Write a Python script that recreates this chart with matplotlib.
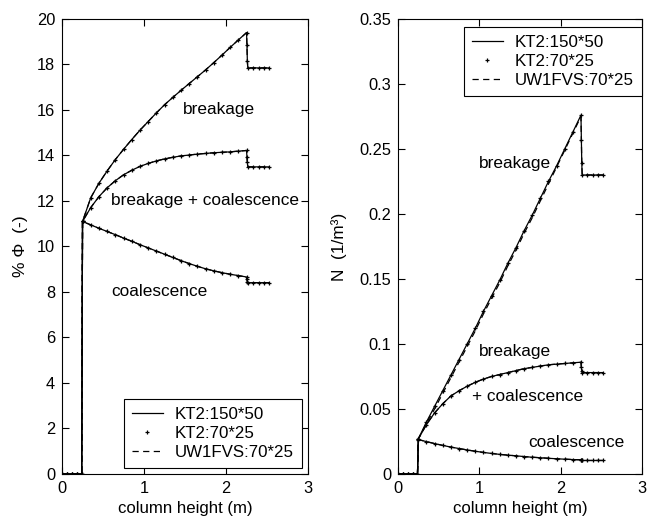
import matplotlib
matplotlib.use("Agg")
import matplotlib.pyplot as plt

plt.rcParams['font.family'] = ['Liberation Sans', 'DejaVu Sans']
plt.rcParams['font.size'] = 12

# column height grid (m): inlet section, main section, step at top, outlet section
height_m = [0.00, 0.06, 0.12, 0.18, 0.24,
            0.25, 0.35, 0.45, 0.55, 0.65, 0.75, 0.85, 0.95, 1.05, 1.15, 1.25,
            1.35, 1.45, 1.55, 1.65, 1.75, 1.85, 1.95, 2.05, 2.15, 2.25,
            2.255, 2.26, 2.265,
            2.33, 2.40, 2.46, 2.52]

# hold-up % Phi (-)
phi_breakage = [0, 0, 0, 0, 0,
                11.10, 12.14, 12.78, 13.32, 13.82, 14.27, 14.70, 15.11, 15.49, 15.87, 16.23,
                16.55, 16.86, 17.16, 17.46, 17.76, 18.08, 18.41, 18.75, 19.08, 19.40,
                18.85, 18.15, 17.85,
                17.85, 17.85, 17.85, 17.85]
phi_brk_coal = [0, 0, 0, 0, 0,
                11.10, 11.71, 12.19, 12.58, 12.89, 13.15, 13.35, 13.52, 13.65, 13.76, 13.85,
                13.92, 13.98, 14.02, 14.06, 14.09, 14.12, 14.14, 14.16, 14.19, 14.22,
                13.95, 13.70, 13.50,
                13.50, 13.50, 13.50, 13.50]
phi_coalescence = [0, 0, 0, 0, 0,
                   11.10, 10.95, 10.80, 10.66, 10.52, 10.37, 10.23, 10.08, 9.94, 9.80, 9.66,
                   9.52, 9.38, 9.25, 9.13, 9.02, 8.93, 8.85, 8.78, 8.72, 8.66,
                   8.55, 8.45, 8.41,
                   8.41, 8.41, 8.41, 8.41]

# UW1FVS spreads the inlet front over one extra cell
uw_front_height = [0.00, 0.24, 0.245, 0.25]
uw_front_phi = [0.0, 0.0, 5.5, 11.10]

# number density N (1/m^3)
n_breakage = [0, 0, 0, 0, 0,
              0.027, 0.040, 0.052, 0.064, 0.076, 0.088, 0.100, 0.112, 0.125, 0.137, 0.149,
              0.162, 0.174, 0.187, 0.199, 0.212, 0.225, 0.237, 0.250, 0.263, 0.276,
              0.257, 0.239, 0.230,
              0.230, 0.230, 0.230, 0.230]
n_breakage_uw = [0, 0, 0, 0, 0,
                 0.027, 0.039, 0.050, 0.062, 0.074, 0.086, 0.098, 0.110, 0.123, 0.135, 0.147,
                 0.160, 0.172, 0.185, 0.197, 0.210, 0.223, 0.236, 0.249, 0.262, 0.275,
                 0.257, 0.239, 0.230,
                 0.230, 0.230, 0.230, 0.230]
n_brk_coal = [0, 0, 0, 0, 0,
              0.027, 0.038, 0.047, 0.054, 0.060, 0.064, 0.0675, 0.0705, 0.073, 0.075, 0.0765,
              0.078, 0.0795, 0.081, 0.082, 0.083, 0.084, 0.0845, 0.085, 0.0855, 0.086,
              0.082, 0.079, 0.078,
              0.078, 0.078, 0.078, 0.078]
n_coalescence = [0, 0, 0, 0, 0,
                 0.0265, 0.0249, 0.0234, 0.0220, 0.0207, 0.0196, 0.0185, 0.0175, 0.0166, 0.0158, 0.0151,
                 0.0145, 0.0140, 0.0134, 0.0129, 0.0125, 0.0121, 0.0117, 0.0114, 0.0111, 0.0109,
                 0.0107, 0.0105, 0.0104,
                 0.0104, 0.0104, 0.0104, 0.0104]

series_labels = ['KT2:150*50', 'KT2:70*25', 'UW1FVS:70*25']
x_ticks = [0, 1, 2, 3]
phi_ticks = [0, 2, 4, 6, 8, 10, 12, 14, 16, 18, 20]
n_ticks = [0, 0.05, 0.1, 0.15, 0.2, 0.25, 0.3, 0.35]
n_tick_labels = ['0', '0.05', '0.1', '0.15', '0.2', '0.25', '0.3', '0.35']

LW = 0.9
DASH = (0, (5, 3.5))
TXT = 12.4
MARK = dict(ls='none', marker='+', ms=3.2, mew=0.9, color='black')


def draw_curve(ax, y, y_uw=None, with_label=False):
    if y_uw is None:
        y_uw = y
    ax.plot(height_m, y, color='black', lw=LW, label=series_labels[0] if with_label else None)
    ax.plot(height_m, y, label=series_labels[1] if with_label else None, **MARK)
    ax.plot(height_m, y_uw, color='black', lw=LW, ls=DASH,
            label=series_labels[2] if with_label else None)


def style_axes(ax):
    ax.set_xlim(0, 3)
    ax.set_xticks(x_ticks)
    ax.tick_params(direction='in', top=True, right=True, length=5, width=0.8, pad=5,
                   labelsize=11.8)
    for s in ax.spines.values():
        s.set_linewidth(0.8)
    ax.set_xlabel('column height (m)', labelpad=4, fontsize=12.1)


def add_legend(ax, **kw):
    leg = ax.legend(borderaxespad=0, fancybox=False, framealpha=1, edgecolor='black',
                    handlelength=1.8, handletextpad=0.7, labelspacing=0.22, borderpad=0.5,
                    numpoints=1, fontsize=12.2, **kw)
    leg.get_frame().set_linewidth(0.8)
    return leg


fig = plt.figure(figsize=(6.55, 5.23), dpi=100)
ax1 = fig.add_axes([0.0947, 0.0937, 0.3756, 0.870])
ax2 = fig.add_axes([0.6076, 0.0937, 0.3725, 0.870])

# left: hold-up
ax1.plot(height_m, phi_breakage, color='black', lw=LW, label=series_labels[0])
ax1.plot(height_m, phi_breakage, label=series_labels[1], **MARK)
ax1.plot(uw_front_height + height_m[6:], uw_front_phi + phi_breakage[6:], color='black',
         lw=LW, ls=DASH, label=series_labels[2])
for curve in (phi_brk_coal, phi_coalescence):
    ax1.plot(height_m, curve, color='black', lw=LW)
    ax1.plot(height_m, curve, **MARK)
    ax1.plot(uw_front_height + height_m[6:], uw_front_phi + curve[6:], color='black',
             lw=LW, ls=DASH)
style_axes(ax1)
ax1.set_ylim(0, 20)
ax1.set_yticks(phi_ticks)
ax1.set_ylabel('% Φ  (-)', labelpad=6, fontsize=12.6)
ax1.text(1.915, 16.0, 'breakage', ha='center', va='center', fontsize=TXT)
ax1.text(1.744, 12.04, 'breakage + coalescence', ha='center', va='center', fontsize=TXT)
ax1.text(1.19, 8.0, 'coalescence', ha='center', va='center', fontsize=TXT)
add_legend(ax1, loc='lower right', bbox_to_anchor=(0.9756, 0.0125))

# right: number density
draw_curve(ax2, n_breakage, n_breakage_uw, with_label=True)
draw_curve(ax2, n_brk_coal)
draw_curve(ax2, n_coalescence)
style_axes(ax2)
ax2.set_ylim(0, 0.35)
ax2.set_yticks(n_ticks)
ax2.set_yticklabels(n_tick_labels)
ax2.set_ylabel('N  (1/m³)', labelpad=9, fontsize=12.4)
ax2.text(1.44, 0.239, 'breakage', ha='center', va='center', fontsize=TXT)
ax2.text(1.435, 0.094, 'breakage', ha='center', va='center', fontsize=TXT)
ax2.text(1.59, 0.0595, '+ coalescence', ha='center', va='center', fontsize=TXT)
ax2.text(2.19, 0.0244, 'coalescence', ha='center', va='center', fontsize=TXT)
add_legend(ax2, loc='upper right', bbox_to_anchor=(1.0, 0.983))

fig.savefig('out.png', dpi=100)
